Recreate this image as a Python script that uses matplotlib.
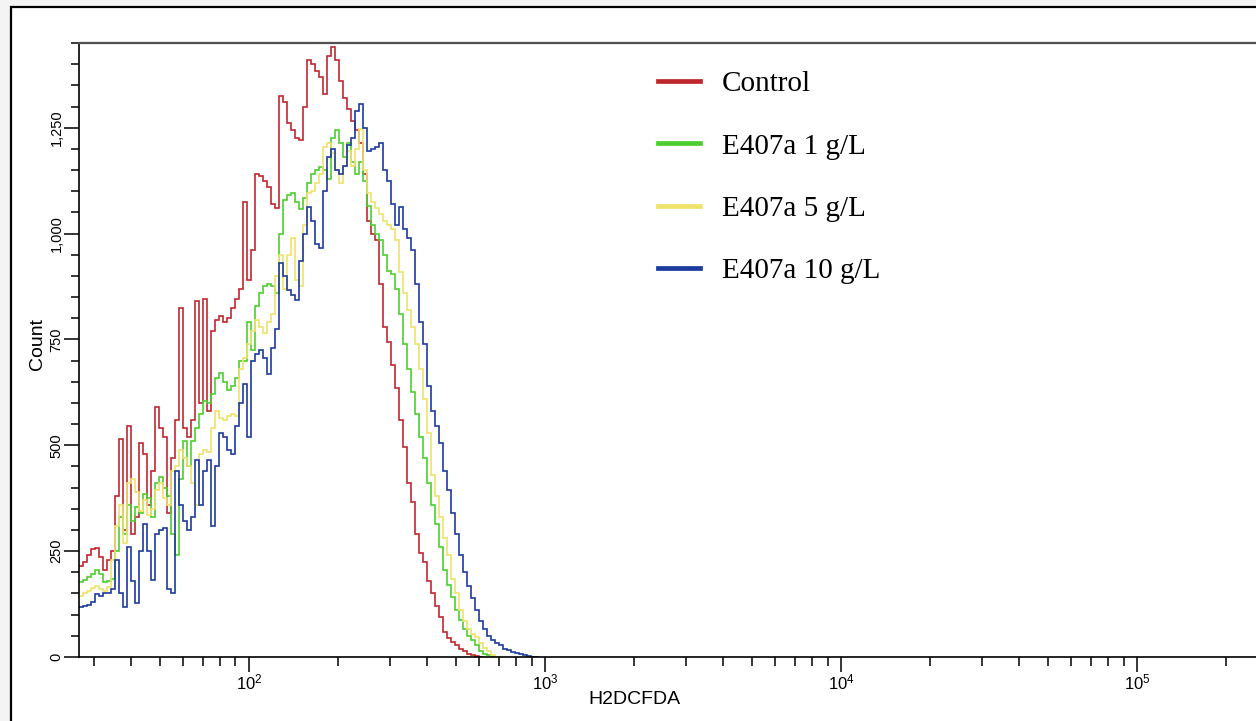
import numpy as np
import matplotlib.pyplot as plt
from matplotlib.patches import Rectangle
from matplotlib.lines import Line2D

plt.rcParams['font.family'] = ['Liberation Sans', 'DejaVu Sans']
plt.rcParams['mathtext.fontset'] = 'custom'
plt.rcParams['mathtext.rm'] = 'Liberation Sans'

# histogram channels (log10 of the first edge, channel width in decades)
log_start = 1.4257
log_step = 0.013514
n_bins = 115
edges = np.logspace(log_start, log_start + n_bins * log_step, n_bins + 1)

# counts per channel
control = [215, 225, 240, 255, 258, 235, 205, 230, 250, 380,
           515, 300, 545, 290, 330, 505, 480, 360, 440, 590,
           540, 520, 340, 470, 560, 825, 540, 520, 560, 840,
           600, 845, 580, 770, 795, 805, 790, 800, 825, 845,
           870, 1075, 890, 960, 1140, 1135, 1125, 1110, 1070, 1060,
           1325, 1310, 1260, 1245, 1225, 1220, 1300, 1410, 1400, 1385,
           1370, 1330, 1420, 1440, 1410, 1360, 1320, 1295, 1265, 1245,
           1215, 1140, 1030, 1000, 985, 880, 780, 745, 690, 635,
           560, 495, 410, 365, 290, 245, 225, 180, 150, 120,
           95, 60, 44, 35, 28, 20, 14, 8, 5, 2,
           0]

e407a_1 = [178, 182, 190, 196, 205, 195, 178, 180, 185, 250,
           330, 290, 360, 320, 355, 340, 385, 375, 330, 410,
           425, 400, 380, 290, 240, 420, 510, 450, 510, 540,
           575, 605, 600, 620, 660, 670, 650, 630, 640, 660,
           700, 700, 790, 725, 830, 860, 875, 880, 875, 860,
           1000, 1080, 1090, 1095, 1075, 1058, 1085, 1120, 1140, 1150,
           1158, 1150, 1130, 1225, 1245, 1215, 1180, 1215, 1170, 1140,
           1170, 1125, 1065, 1020, 1000, 985, 950, 912, 905, 870,
           810, 740, 680, 625, 575, 520, 470, 410, 360, 315,
           260, 205, 170, 142, 110, 88, 65, 50, 39, 28,
           15, 8, 4, 1, 0]

e407a_5 = [145, 150, 155, 162, 168, 160, 156, 165, 230, 310,
           360, 270, 410, 420, 390, 345, 370, 335, 350, 395,
           410, 375, 360, 440, 450, 490, 470, 450, 410, 360,
           480, 490, 485, 540, 580, 565, 560, 570, 575, 570,
           680, 705, 740, 770, 795, 780, 765, 790, 810, 900,
           950, 870, 950, 990, 890, 875, 1020, 1095, 1100, 1120,
           1140, 1205, 1215, 1190, 1150, 1120, 1160, 1195, 1160, 1200,
           1248, 1150, 1095, 1075, 1060, 1045, 1030, 1020, 1010, 985,
           910, 860, 820, 780, 740, 680, 610, 530, 430, 380,
           330, 280, 240, 185, 150, 110, 85, 66, 55, 48,
           32, 22, 13, 5, 1, 0]

e407a_10 = [118, 120, 122, 130, 148, 145, 150, 152, 160, 230,
            150, 118, 260, 180, 128, 250, 314, 250, 182, 290,
            300, 305, 160, 150, 440, 360, 320, 300, 330, 465,
            360, 440, 465, 310, 450, 530, 520, 490, 480, 545,
            600, 645, 520, 700, 715, 724, 705, 668, 730, 775,
            930, 900, 866, 855, 842, 935, 1000, 1062, 1030, 975,
            967, 1100, 1180, 1200, 1150, 1140, 1160, 1210, 1225, 1290,
            1306, 1250, 1195, 1200, 1205, 1215, 1150, 1125, 1070, 1020,
            1062, 1010, 990, 960, 880, 790, 740, 640, 580, 545,
            505, 440, 395, 340, 290, 240, 200, 168, 140, 110,
            85, 65, 50, 40, 32, 28, 20, 16, 12, 9,
            7, 4, 2, 1, 0]

labels = ["Control", "E407a 1 g/L", "E407a 5 g/L", "E407a 10 g/L"]
colors = ["#c0272d", "#4ccf2e", "#efe36a", "#1b3b9e"]
series = [control, e407a_1, e407a_5, e407a_10]

y_ticks = [0, 250, 500, 750, 1000, 1250]
y_ticklabels = ["0", "250", "500", "750", "1,000", "1,250"]
x_ticks = [1e2, 1e3, 1e4, 1e5]
x_ticklabels = [r"$\mathregular{10^{2}}$", r"$\mathregular{10^{3}}$",
                r"$\mathregular{10^{4}}$", r"$\mathregular{10^{5}}$"]

fig = plt.figure(figsize=(12.56, 7.21), dpi=100, facecolor="#f4f4f4")
# outer window frame
frame = Rectangle((11 / 1256, -0.05), 1.2, 1 - 7 / 721 + 0.05, transform=fig.transFigure,
                  facecolor="white", edgecolor="black", lw=1.6, zorder=-10)
fig.patches.append(frame)

ax = fig.add_axes([79 / 1256, 1 - 657 / 721, 1 - 79 / 1256, (657 - 43) / 721])
ax.set_facecolor("white")

for vals, col in zip(series, colors):
    ax.stairs(vals, edges[:len(vals) + 1], baseline=None, color=col, lw=1.2)

ax.set_xscale("log")
ax.set_xlim(10 ** log_start, 2.52e5)
ax.set_ylim(0, 1450)

ax.set_yticks(y_ticks)
ax.set_yticklabels(y_ticklabels, rotation=90, va="center", fontsize=10.5)
ax.set_yticks(np.arange(0, 1451, 50), minor=True)

ax.set_xticks(x_ticks)
ax.set_xticklabels(x_ticklabels, fontsize=12)
minor_x = [m * 10 ** k for k in range(1, 6) for m in range(2, 10)]
minor_x = [v for v in minor_x if 27 < v < 2.5e5]
ax.set_xticks(minor_x, minor=True)
ax.xaxis.set_minor_formatter(plt.NullFormatter())

ax.tick_params(axis="both", which="both", direction="out", width=1.1, color="black")
ax.tick_params(axis="y", which="major", length=11, pad=0)
ax.tick_params(axis="y", which="minor", length=5.8)
ax.tick_params(axis="x", which="major", length=11, pad=0)
ax.tick_params(axis="x", which="minor", length=6.5)

ax.spines["right"].set_visible(False)
ax.spines["left"].set_linewidth(1.2)
ax.spines["bottom"].set_linewidth(1.2)
ax.spines["top"].set_linewidth(1.6)
ax.spines["top"].set_color("#505050")

ax.set_xlabel("H2DCFDA", fontsize=14, va="center")
ax.xaxis.set_label_coords((634.5 - 79) / 1177, (657 - 700) / 614)
ax.set_ylabel("Count", fontsize=14, va="center")
ax.yaxis.set_label_coords((37.5 - 79) / 1177, (657 - 344) / 614)

handles = [Line2D([], [], color=c, lw=3.4) for c in colors]
ax.legend(handles, labels, loc="upper left", bbox_to_anchor=(658 / 1256, 1 - 71 / 721),
          bbox_transform=fig.transFigure, frameon=False, borderpad=0, borderaxespad=0,
          handlelength=1.44, handletextpad=0.75, labelspacing=1.23,
          prop={"family": "Liberation Serif", "size": 21})

fig.savefig("out.png", dpi=100, facecolor=fig.get_facecolor())
